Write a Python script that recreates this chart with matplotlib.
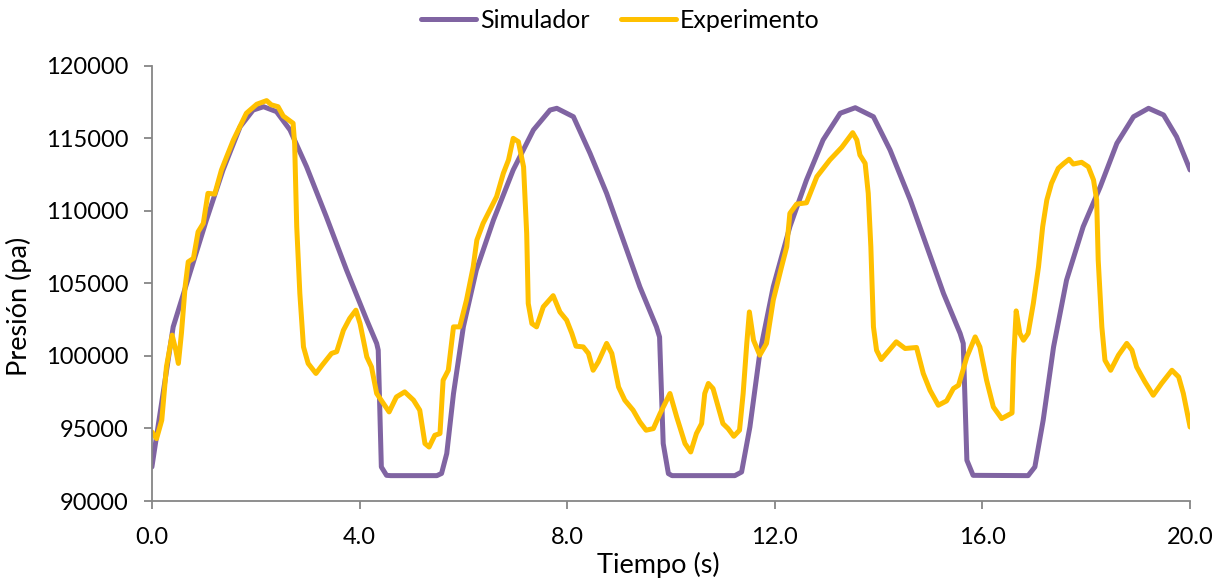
import matplotlib
matplotlib.use("Agg")
import matplotlib.pyplot as plt
from matplotlib.ticker import FuncFormatter

# Simulador (tiempo s, presión pa)
sim_t = [0.00, 0.41, 0.73, 1.05, 1.37, 1.70, 1.95, 2.15, 2.40, 2.66, 2.98, 3.36, 3.75,
         4.14, 4.33, 4.36, 4.42, 4.52, 4.60, 5.49, 5.58, 5.68, 5.81, 6.00, 6.25, 6.58,
         6.96, 7.35, 7.67, 7.80, 8.12, 8.44, 8.76, 9.08, 9.40, 9.72, 9.78, 9.85, 9.95,
         10.02, 11.23, 11.36, 11.52, 11.71, 11.97, 12.29, 12.61, 12.93, 13.26, 13.55,
         13.90, 14.22, 14.61, 14.93, 15.25, 15.57, 15.63, 15.70, 15.82, 16.88, 17.01,
         17.17, 17.37, 17.62, 17.94, 18.27, 18.59, 18.91, 19.20, 19.49, 19.74, 20.00]
sim_p = [92350, 102000, 105680, 109360, 112810, 115790, 116940, 117170, 116830, 115570,
         113030, 109590, 105910, 102460, 100860, 100400, 92350, 91770, 91750, 91750,
         91900, 93270, 97400, 102000, 105910, 109360, 112810, 115570, 116940, 117060,
         116480, 113960, 111200, 107980, 104760, 102000, 101300, 93960, 91890, 91750,
         91750, 92000, 95100, 100170, 104760, 108900, 112120, 114880, 116720, 117100,
         116480, 114190, 110740, 107520, 104300, 101550, 100860, 92810, 91770, 91750,
         92350, 95570, 100620, 105220, 108900, 111660, 114650, 116480, 117060, 116600,
         115100, 112810]

# Experimento
exp_t = [0.00, 0.09, 0.19, 0.28, 0.39, 0.46, 0.51, 0.57, 0.64, 0.70, 0.80, 0.89, 0.99,
         1.08, 1.21, 1.34, 1.44, 1.57, 1.82, 2.02, 2.21, 2.30, 2.43, 2.53, 2.72, 2.75,
         2.79, 2.85, 2.92, 3.01, 3.16, 3.28, 3.46, 3.56, 3.69, 3.81, 3.93, 4.01, 4.14,
         4.23, 4.33, 4.46, 4.57, 4.71, 4.87, 5.04, 5.16, 5.26, 5.34, 5.45, 5.55, 5.61,
         5.71, 5.81, 5.93, 6.06, 6.19, 6.26, 6.38, 6.64, 6.77, 6.87, 6.96, 7.06, 7.16,
         7.22, 7.25, 7.32, 7.41, 7.54, 7.73, 7.86, 7.99, 8.09, 8.17, 8.31, 8.41, 8.50,
         8.60, 8.76, 8.86, 8.99, 9.11, 9.27, 9.40, 9.52, 9.66, 9.79, 9.98, 10.11, 10.27,
         10.38, 10.49, 10.59, 10.65, 10.72, 10.81, 10.91, 11.00, 11.10, 11.21, 11.32,
         11.39, 11.46, 11.51, 11.59, 11.71, 11.84, 11.97, 12.13, 12.23, 12.29, 12.42,
         12.61, 12.81, 13.06, 13.29, 13.42, 13.50, 13.58, 13.64, 13.74, 13.80, 13.85,
         13.90, 13.96, 14.05, 14.16, 14.34, 14.51, 14.73, 14.86, 14.99, 15.15, 15.31,
         15.44, 15.54, 15.70, 15.86, 15.95, 16.08, 16.21, 16.37, 16.57, 16.60, 16.65,
         16.72, 16.79, 16.88, 16.98, 17.08, 17.16, 17.24, 17.33, 17.46, 17.57, 17.67,
         17.75, 17.91, 18.04, 18.14, 18.20, 18.23, 18.30, 18.36, 18.47, 18.62, 18.78,
         18.88, 18.97, 19.13, 19.29, 19.45, 19.65, 19.78, 19.87, 20.00]
exp_p = [94760, 94300, 95570, 99240, 101430, 100400, 99480, 101600, 104760, 106480,
         106720, 108550, 109130, 111200, 111150, 112810, 113720, 114880, 116720, 117340,
         117590, 117300, 117170, 116530, 116030, 114600, 108900, 104300, 100620, 99480,
         98790, 99360, 100170, 100290, 101770, 102580, 103150, 102230, 99930, 99240,
         97410, 96720, 96140, 97170, 97520, 96950, 96260, 93960, 93720, 94530, 94650,
         98320, 99010, 102000, 102000, 103840, 106140, 107980, 109130, 110970, 112580,
         113500, 114990, 114760, 113030, 108440, 103610, 102230, 102000, 103380, 104150,
         103030, 102460, 101550, 100670, 100620, 100170, 99010, 99590, 100860, 100170,
         97860, 96950, 96260, 95450, 94880, 94990, 96030, 97410, 95790, 93960, 93380,
         94650, 95340, 97410, 98100, 97750, 96480, 95340, 94990, 94460, 94880, 97410,
         100860, 103030, 101080, 100050, 100860, 103840, 106140, 107520, 109820, 110460,
         110550, 112350, 113500, 114370, 114990, 115380, 114880, 113840, 113270, 111200,
         107520, 102000, 100390, 99750, 100210, 100970, 100510, 100580, 98790, 97630,
         96600, 96900, 97750, 97980, 99930, 101310, 100620, 98320, 96480, 95680, 96070,
         99700, 103100, 101550, 101080, 101550, 103610, 106140, 108900, 110740, 111890,
         112920, 113270, 113550, 113220, 113340, 113030, 112120, 110740, 106600, 102000,
         99700, 99010, 100050, 100860, 100390, 99240, 98210, 97290, 98100, 99010, 98550,
         97410, 95100]

x_ticks = [0, 4, 8, 12, 16, 20]
y_ticks = [90000, 95000, 100000, 105000, 110000, 115000, 120000]

plt.rcParams['font.family'] = ['Lato', 'DejaVu Sans']

fig = plt.figure(figsize=(12.25, 5.86), dpi=100)
ax = fig.add_axes([0.124, 0.145, 0.8475, 0.743])

ax.plot(sim_t, sim_p, color='#8064A2', lw=3.6, label='Simulador',
        solid_capstyle='round', solid_joinstyle='round')
ax.plot(exp_t, exp_p, color='#FFC000', lw=3.6, label='Experimento',
        solid_capstyle='round', solid_joinstyle='round')

ax.set_xlim(0, 20)
ax.set_ylim(90000, 120000)
ax.set_xticks(x_ticks)
ax.set_yticks(y_ticks)
ax.xaxis.set_major_formatter(FuncFormatter(lambda v, _: f"{v:.1f}"))
ax.yaxis.set_major_formatter(FuncFormatter(lambda v, _: f"{int(v)}"))

for side in ('top', 'right'):
    ax.spines[side].set_visible(False)
for side in ('left', 'bottom'):
    ax.spines[side].set_color('#868686')
    ax.spines[side].set_linewidth(1.3)
ax.tick_params(axis='both', direction='out', length=6, width=1.3, color='#868686',
               labelsize=17, labelcolor='black')
ax.tick_params(axis='x', pad=13)
ax.tick_params(axis='y', pad=11)

ax.set_xlabel('Tiempo (s)', fontsize=19.5, va='center')
ax.xaxis.set_label_coords(0.4875, -0.147)
ax.set_ylabel('Presión (pa)', fontsize=19.5, va='center')
ax.yaxis.set_label_coords(-0.128, 0.447)

fig.legend(*ax.get_legend_handles_labels(), loc='center', bbox_to_anchor=(0.5065, 0.965),
           ncol=2, frameon=False, fontsize=18, handlelength=2.2, handletextpad=0.14,
           columnspacing=1.27)

fig.savefig('out.png', dpi=100)
